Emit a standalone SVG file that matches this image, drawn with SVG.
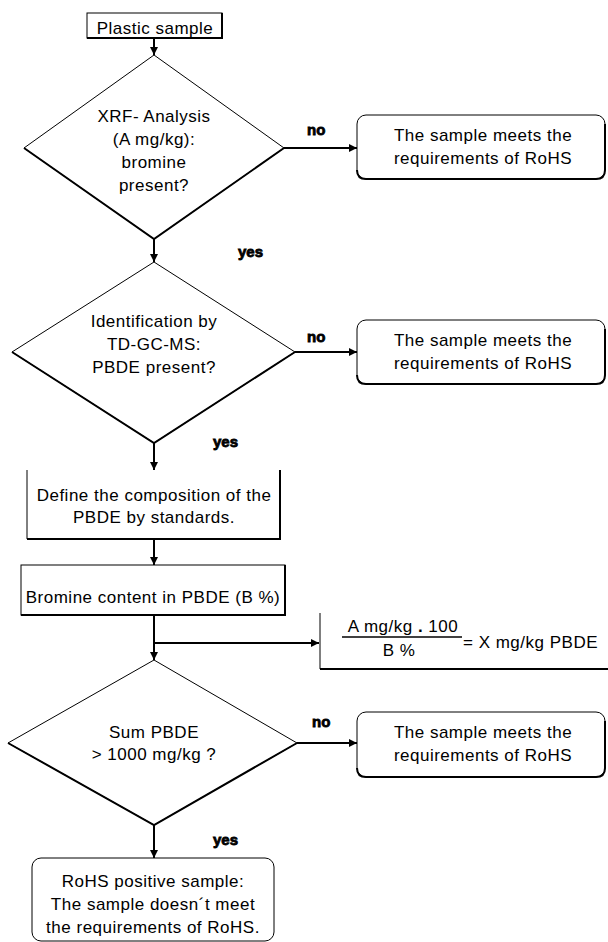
<svg xmlns="http://www.w3.org/2000/svg" width="608" height="942" viewBox="0 0 608 942">
<defs>
<style>
.t{font-family:"Liberation Sans",Arial,sans-serif;font-size:17px;fill:#000;text-anchor:middle;letter-spacing:0.5px}
.l{font-family:"Liberation Sans",Arial,sans-serif;font-size:15px;font-weight:bold;fill:#000;stroke:#000;stroke-width:0.8px}
.thin{fill:none;stroke:#000;stroke-width:1}
.thick{fill:none;stroke:#000;stroke-width:2}
.c{fill:none;stroke:#000;stroke-width:2}
</style>
<marker id="ah" markerUnits="userSpaceOnUse" markerWidth="9" markerHeight="9" refX="8" refY="4.5" orient="auto" viewBox="0 0 9 9">
<path d="M0,0.5 L8,4.5 L0,8.5 z" fill="#000"/>
</marker>
</defs>
<rect width="608" height="942" fill="#fff"/>

<g id="connectors">
<line class="c" x1="154" y1="38" x2="154" y2="55" marker-end="url(#ah)"/>
<line class="c" x1="154" y1="239" x2="154" y2="262" marker-end="url(#ah)"/>
<line class="c" x1="284" y1="148" x2="357" y2="148" marker-end="url(#ah)"/>
<line class="c" x1="295" y1="352" x2="357" y2="352" marker-end="url(#ah)"/>
<line class="c" x1="154" y1="443" x2="154" y2="470" marker-end="url(#ah)"/>
<line class="c" x1="154" y1="539" x2="154" y2="565" marker-end="url(#ah)"/>
<line class="c" x1="154" y1="615" x2="154" y2="660" marker-end="url(#ah)"/>
<line class="c" x1="154" y1="643" x2="319" y2="643" marker-end="url(#ah)"/>
<line class="c" x1="297" y1="743" x2="357" y2="743" marker-end="url(#ah)"/>
<line class="c" x1="154" y1="825" x2="154" y2="858" marker-end="url(#ah)"/>
<text class="l" x="307" y="135">no</text>
<text class="l" x="307" y="342">no</text>
<text class="l" x="312" y="727">no</text>
<text class="l" x="238" y="257">yes</text>
<text class="l" x="213" y="447">yes</text>
<text class="l" x="213" y="845">yes</text>
</g>

<g id="plastic">
<rect class="thin" x="87" y="13" width="135" height="25"/>
<path class="thick" d="M87,38 H222 V13"/>
<text class="t" x="155" y="34">Plastic sample</text>
</g>

<g id="xrf">
<path class="thin" d="M154,55 L24,148 L154,239 L284,148 Z"/>
<path class="thick" d="M24,148 L154,239 L284,148"/>
<text class="t" x="154" y="122">XRF- Analysis</text>
<text class="t" x="154" y="145">(A mg/kg):</text>
<text class="t" x="154" y="168">bromine</text>
<text class="t" x="154" y="191">present?</text>
</g>

<g id="meets1">
<rect class="thin" x="357" y="115" width="248" height="64" rx="9"/>
<path class="thick" d="M357,170 Q357,179 366,179 H596 Q605,179 605,170 V124"/>
<text class="t" x="483" y="141">The sample meets the</text>
<text class="t" x="483" y="164">requirements of RoHS</text>
</g>

<g id="tdgcms">
<path class="thin" d="M154,262 L12,352 L154,443 L295,352 Z"/>
<path class="thick" d="M12,352 L154,443 L295,352"/>
<text class="t" x="154" y="327">Identification by</text>
<text class="t" x="154" y="350">TD-GC-MS:</text>
<text class="t" x="154" y="373">PBDE present?</text>
</g>

<g id="meets2">
<rect class="thin" x="357" y="320" width="248" height="64" rx="9"/>
<path class="thick" d="M357,375 Q357,384 366,384 H596 Q605,384 605,375 V329"/>
<text class="t" x="483" y="346">The sample meets the</text>
<text class="t" x="483" y="369">requirements of RoHS</text>
</g>

<g id="define">
<path class="thin" d="M27,470 V539"/>
<path class="thick" d="M27,539 H280 V470"/>
<text class="t" x="154" y="501">Define the composition of the</text>
<text class="t" x="154" y="523">PBDE by standards.</text>
</g>

<g id="bromine">
<rect class="thin" x="21" y="565" width="264" height="50"/>
<path class="thick" d="M21,615 H285 V565"/>
<text class="t" x="153" y="603">Bromine content in PBDE (B %)</text>
</g>

<g id="formula">
<path class="thin" d="M320,613 V669"/>
<path class="thick" d="M320,669 H608"/>
<line x1="342" y1="637" x2="462" y2="637" stroke="#000" stroke-width="1.5"/>
<text class="t" x="403" y="632">A mg/kg <tspan font-weight="bold">.</tspan> 100</text>
<text class="t" x="399" y="656">B %</text>
<text class="t" x="463" y="648" style="text-anchor:start">= X mg/kg PBDE</text>
</g>

<g id="sum">
<path class="thin" d="M154,660 L8,743 L154,825 L297,743 Z"/>
<path class="thick" d="M8,743 L154,825 L297,743"/>
<text class="t" x="154" y="738">Sum PBDE</text>
<text class="t" x="154" y="760">&gt; 1000 mg/kg ?</text>
</g>

<g id="meets3">
<rect class="thin" x="357" y="712" width="248" height="65" rx="9"/>
<path class="thick" d="M357,768 Q357,777 366,777 H596 Q605,777 605,768 V721"/>
<text class="t" x="483" y="738">The sample meets the</text>
<text class="t" x="483" y="761">requirements of RoHS</text>
</g>

<g id="positive">
<rect class="thin" x="32" y="858" width="242" height="83" rx="9"/>
<text class="t" x="153" y="887">RoHS positive sample:</text>
<text class="t" x="153" y="910">The sample doesn´t meet</text>
<text class="t" x="153" y="933">the requirements of RoHS.</text>
</g>
</svg>
